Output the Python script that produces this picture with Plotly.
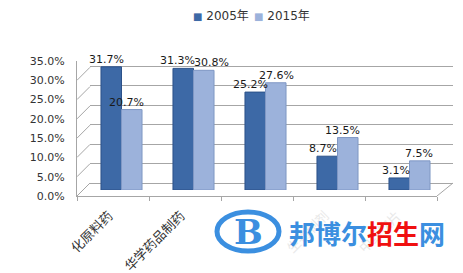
import plotly.graph_objects as go

categories = ["化原料药", "华学药品制药", "中成药", "生物制剂", "中药饮片"]
series_names = ["2005年", "2015年"]
values_2005 = [31.7, 31.3, 25.2, 8.7, 3.1]
values_2015 = [20.7, 30.8, 27.6, 13.5, 7.5]
y_ticks = [0, 5, 10, 15, 20, 25, 30, 35]
y_ticklabels = ["0.0%", "5.0%", "10.0%", "15.0%", "20.0%", "25.0%", "30.0%", "35.0%"]

W, H = 463, 273
def px(x): return x / W
def py(y): return (H - y) / H

FONT = "DejaVu Sans, Noto Sans CJK SC, sans-serif"
GRID = "#a6a6a6"
DARK = "#3d69a6"
LIGHT = "#9cb2db"
LOGO = "#3b8fe0"
COLORS = [DARK, LIGHT]
EDGES = ["#2c5189", "#7f97c4"]
# label horizontal nudges (pixels) relative to category centre, per series
LABEL_SHIFT = [[-15, -16, -15, -15, -14], [5, 18, 11, 5, 9]]

fig = go.Figure()

# invisible traces to create front and back axes
fig.add_trace(go.Scatter(x=categories, y=[0] * len(categories), xaxis="x", yaxis="y3",
                         mode="markers", marker=dict(opacity=0), showlegend=False, hoverinfo="skip"))
fig.add_trace(go.Scatter(x=[0], y=[0], xaxis="x2", yaxis="y2",
                         mode="markers", marker=dict(opacity=0), showlegend=False, hoverinfo="skip"))

all_vals = [values_2005, values_2015]
for i, (name, vals) in enumerate(zip(series_names, all_vals)):
    fig.add_trace(go.Bar(x=categories, y=vals, name=name, xaxis="x4", yaxis="y4",
                         marker=dict(color=COLORS[i], line=dict(color=EDGES[i], width=1)),
                         showlegend=False, hoverinfo="x+y"))
    for j, (c, v) in enumerate(zip(categories, vals)):
        fig.add_annotation(x=c, y=v, xref="x4", yref="y4", text=f"{v:.1f}%",
                           showarrow=False, xanchor="center", yanchor="bottom",
                           xshift=LABEL_SHIFT[i][j], yshift=0, borderpad=0,
                           font=dict(size=11, color="#1a1a1a", family=FONT))

faint = "<span style='color:#e8e8e8'>%s</span>"
ticktext = [categories[0], categories[1]] + [faint % c for c in categories[2:]]

fig.update_layout(
    width=W, height=H, margin=dict(l=0, r=0, t=0, b=0, autoexpand=False),
    paper_bgcolor="white", plot_bgcolor="rgba(0,0,0,0)",
    font=dict(family=FONT, color="#333333"),
    barmode="group", bargap=0.43, bargroupgap=0.0,
    showlegend=False,
    # front axes
    xaxis=dict(domain=[px(77), px(437)], anchor="y3", type="category",
               categoryorder="array", categoryarray=categories, range=[-0.5, 4.5],
               tickmode="array", tickvals=categories, ticktext=ticktext,
               showline=True, linecolor=GRID, linewidth=1,
               ticks="outside", tickson="boundaries", ticklen=4, tickcolor=GRID,
               tickangle=-45, tickfont=dict(size=13, color="#333333"),
               ticklabelstandoff=6, ticklabelshift=-4,
               showgrid=False, zeroline=False, fixedrange=True),
    yaxis3=dict(domain=[py(196), py(61)], anchor="x", range=[0, 35],
                tickvals=y_ticks, ticktext=y_ticklabels,
                showline=True, linecolor=GRID, linewidth=1,
                showgrid=False, zeroline=False, ticks="",
                ticklabelstandoff=9, tickfont=dict(size=11, color="#333333")),
    # back wall
    xaxis2=dict(domain=[px(90), px(453)], anchor="y2", range=[0, 1],
                showline=False, showgrid=False, zeroline=False,
                showticklabels=False, ticks=""),
    yaxis2=dict(domain=[py(183), py(47)], anchor="x2", range=[0, 35],
                tickvals=y_ticks, showgrid=True, gridcolor=GRID, gridwidth=1,
                zeroline=True, zerolinecolor=GRID, zerolinewidth=1,
                showline=False, showticklabels=False, ticks=""),
    # bars (mid depth)
    xaxis4=dict(domain=[px(85.5), px(445.5)], anchor="y4", type="category",
                categoryorder="array", categoryarray=categories, range=[-0.5, 4.5],
                showline=False, showgrid=False, zeroline=False,
                showticklabels=False, ticks=""),
    yaxis4=dict(domain=[py(190), py(54)], anchor="x4", range=[0, 35],
                showline=False, showgrid=False, zeroline=False,
                showticklabels=False, ticks=""),
)

shapes = []
# side wall diagonals
for v in y_ticks:
    shapes.append(dict(type="line", xref="paper", xsizemode="pixel", xanchor=px(77),
                       x0=0, x1=13, yref="y3", ysizemode="pixel", yanchor=v,
                       y0=0, y1=13, line=dict(color=GRID, width=1), layer="below"))
# floor right diagonal
shapes.append(dict(type="line", xref="paper", xsizemode="pixel", xanchor=px(437),
                   x0=0, x1=16, yref="y3", ysizemode="pixel", yanchor=0,
                   y0=0, y1=13, line=dict(color=GRID, width=1), layer="below"))
# watermark logo ring
shapes.append(dict(type="circle", xref="paper", yref="paper",
                   x0=px(217), x1=px(279), y0=py(251), y1=py(212),
                   fillcolor="white", line=dict(color=LOGO, width=5), layer="above"))
fig.update_layout(shapes=shapes)

# legend as text
legend_x = [191, 252]
for name, col, lx in zip(series_names, COLORS, legend_x):
    fig.add_annotation(x=px(lx), y=py(16), xref="paper", yref="paper", showarrow=False,
                       xanchor="left", yanchor="middle",
                       text=f"<span style='color:{col};font-size:10px'>■</span> {name}",
                       font=dict(size=12, color="#333333", family=FONT))

fig.add_annotation(x=px(248), y=py(231.5), xref="paper", yref="paper", showarrow=False,
                   xanchor="center", yanchor="middle",
                   text="<b>B</b>", font=dict(family="DejaVu Serif", size=34, color=LOGO))
fig.add_annotation(x=px(367), y=py(232), xref="paper", yref="paper", showarrow=False,
                   xanchor="center", yanchor="middle",
                   text="<b><span style='color:#3b8fe0'>邦博尔</span><span style='color:#f01010'>招生</span><span style='color:#3b8fe0'>网</span></b>",
                   font=dict(family="Noto Sans CJK SC", size=26))

fig.write_html("out.html")
